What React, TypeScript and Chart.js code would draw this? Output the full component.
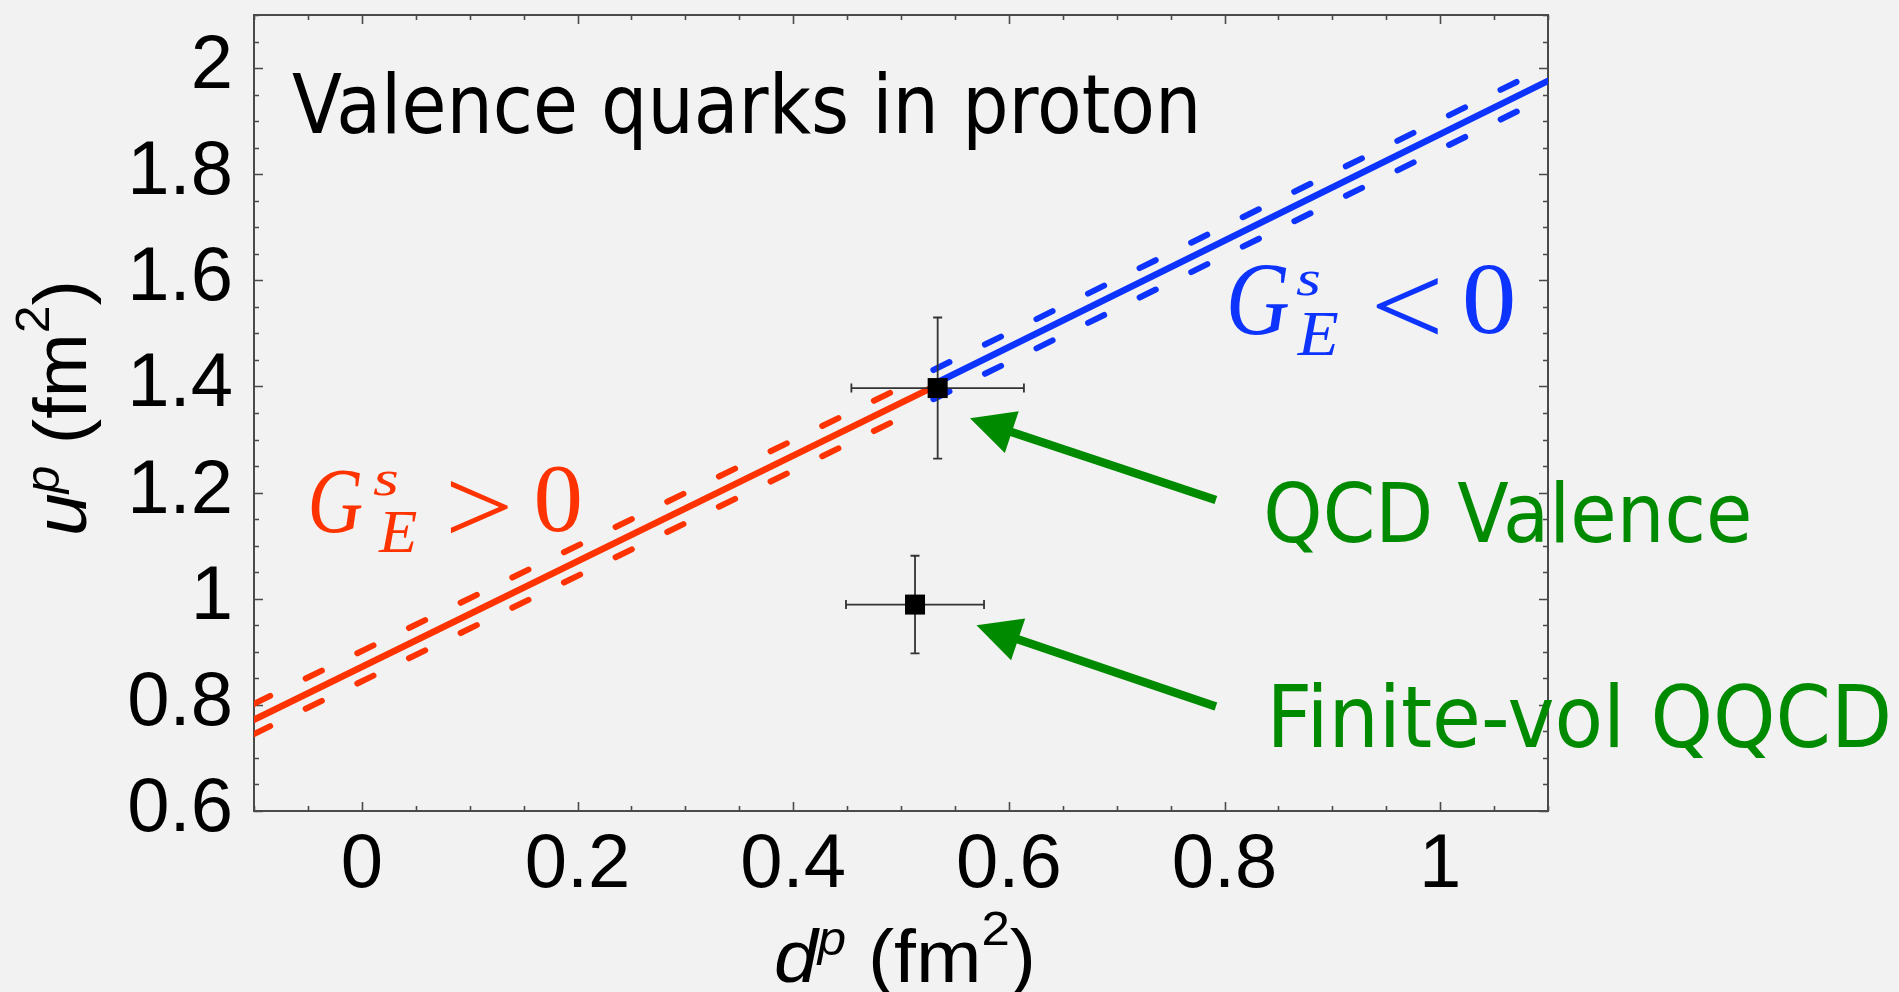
import { useEffect, useRef } from 'react';
import { Chart, registerables } from 'chart.js';

Chart.register(...registerables);

// Axis ranges and labelled ticks
const xRange = [-0.1, 1.1];
const yRange = [0.6, 2.1];
const xTicks = [0, 0.2, 0.4, 0.6, 0.8, 1];
const xTickLabels = ['0', '0.2', '0.4', '0.6', '0.8', '1'];
const yTicks = [0.6, 0.8, 1.0, 1.2, 1.4, 1.6, 1.8, 2.0];
const yTickLabels = ['0.6', '0.8', '1', '1.2', '1.4', '1.6', '1.8', '2'];
const minorStep = 0.05;

// G_E^s > 0 branch: central line and the edges of its band
const redCentralX = [-0.1, 0.534];
const redCentralY = [0.772, 1.403];
const redUpperX = [-0.1, 0.505];
const redUpperY = [0.802, 1.403];
const redLowerX = [-0.1, 0.505];
const redLowerY = [0.745, 1.346];

// G_E^s < 0 branch
const blueCentralX = [0.534, 1.1];
const blueCentralY = [1.408, 1.976];
const blueUpperX = [0.53, 1.075];
const blueUpperY = [1.431, 1.978];
const blueLowerX = [0.53, 1.075];
const blueLowerY = [1.376, 1.922];

// Lattice results with their uncertainties
const pointNames = ['QCD Valence', 'Finite-vol QQCD'];
const pointD = [0.534, 0.513];
const pointU = [1.397, 0.989];
const pointDErr = [0.08, 0.064];
const pointUErr = [0.133, 0.092];

// Arrows from each caption to its point
const arrowTailD = [0.792, 0.792];
const arrowTailU = [1.186, 0.797];
const arrowTipD = [0.564, 0.57];
const arrowTipU = [1.34, 0.95];

const RED = '#ff3300';
const BLUE = '#0d33ff';
const GREEN = '#008a00';
const AXIS = '#4a4a4a';
const SANS = '"Liberation Sans", Arial, sans-serif';
const SERIF = '"Liberation Serif", "Times New Roman", serif';
const HAND = '"DejaVu Sans", sans-serif';

const zip = (xs: number[], ys: number[]) => xs.map((x, i) => ({ x, y: ys[i] }));

const lineSet = (xs: number[], ys: number[], color: string, width: number, dash: number[]) => ({
  data: zip(xs, ys),
  showLine: true,
  borderColor: color,
  backgroundColor: color,
  borderWidth: width,
  borderDash: dash,
  borderCapStyle: 'round' as const,
  pointRadius: 0,
  pointHoverRadius: 0,
  fill: false,
  tension: 0,
  clip: 0,
});

// Draw a glyph run so that its ink fills the given box
function drawBox(ctx: CanvasRenderingContext2D, text: string, font: string, l: number, t: number, r: number, b: number, color: string) {
  ctx.font = font;
  ctx.textAlign = 'left';
  ctx.textBaseline = 'alphabetic';
  const m = ctx.measureText(text);
  const inkW = m.actualBoundingBoxLeft + m.actualBoundingBoxRight;
  const inkH = m.actualBoundingBoxAscent + m.actualBoundingBoxDescent;
  ctx.save();
  ctx.translate(l, t);
  ctx.scale((r - l) / inkW, (b - t) / inkH);
  ctx.fillStyle = color;
  ctx.fillText(text, m.actualBoundingBoxLeft, m.actualBoundingBoxAscent);
  ctx.restore();
}

function drawFitted(ctx: CanvasRenderingContext2D, text: string, family: string, inkLeft: number, baseline: number, capH: number, width: number, color: string) {
  ctx.font = `100px ${family}`;
  const capRatio = ctx.measureText('H').actualBoundingBoxAscent / 100;
  const size = capH / capRatio;
  ctx.font = `${size}px ${family}`;
  ctx.textAlign = 'left';
  ctx.textBaseline = 'alphabetic';
  const m = ctx.measureText(text);
  const inkW = m.actualBoundingBoxLeft + m.actualBoundingBoxRight;
  ctx.save();
  ctx.translate(inkLeft, baseline);
  ctx.scale(width / inkW, 1);
  ctx.fillStyle = color;
  ctx.fillText(text, m.actualBoundingBoxLeft, 0);
  ctx.restore();
}

type Seg = { t: string; font: string; dy: number };

// Centred run of segments, stretched horizontally to a given length
function drawSegs(ctx: CanvasRenderingContext2D, segs: Seg[], center: number, baseline: number, length: number) {
  ctx.textAlign = 'left';
  ctx.textBaseline = 'alphabetic';
  let total = 0;
  for (const s of segs) {
    ctx.font = s.font;
    total += ctx.measureText(s.t).width;
  }
  ctx.save();
  ctx.translate(center - length / 2, baseline);
  ctx.scale(length / total, 1);
  let cx = 0;
  for (const s of segs) {
    ctx.font = s.font;
    ctx.fillText(s.t, cx, s.dy);
    cx += ctx.measureText(s.t).width;
  }
  ctx.restore();
}

const frameAndTicks = {
  id: 'frameAndTicks',
  beforeDatasetsDraw(chart: any) {
    const { ctx, chartArea: a, scales } = chart;
    const xs = scales.x;
    const ys = scales.y;
    const near = (v: number, list: number[]) => list.some((m) => Math.abs(m - v) < 1e-6);
    ctx.save();
    ctx.strokeStyle = AXIS;
    ctx.lineWidth = 2;
    ctx.strokeRect(a.left, a.top, a.right - a.left, a.bottom - a.top);
    ctx.lineWidth = 1.6;
    ctx.beginPath();
    for (let k = Math.ceil(xRange[0] / minorStep - 1e-9); k * minorStep <= xRange[1] + 1e-9; k++) {
      const v = k * minorStep;
      const px = Math.round(xs.getPixelForValue(v)) + 0.5;
      const len = near(v, xTicks) ? 9 : 5;
      ctx.moveTo(px, a.bottom);
      ctx.lineTo(px, a.bottom - len);
      ctx.moveTo(px, a.top);
      ctx.lineTo(px, a.top + len);
    }
    for (let k = Math.ceil(yRange[0] / minorStep - 1e-9); k * minorStep <= yRange[1] + 1e-9; k++) {
      const v = k * minorStep;
      const py = Math.round(ys.getPixelForValue(v)) + 0.5;
      const len = near(v, yTicks) ? 9 : 5;
      ctx.moveTo(a.left, py);
      ctx.lineTo(a.left + len, py);
      ctx.moveTo(a.right, py);
      ctx.lineTo(a.right - len, py);
    }
    ctx.stroke();
    ctx.restore();
  },
  afterDatasetsDraw(chart: any) {
    const { ctx, scales } = chart;
    const xs = scales.x;
    const ys = scales.y;
    ctx.save();
    // error bars
    ctx.strokeStyle = '#333';
    ctx.lineWidth = 1.8;
    const cap = 4.5;
    ctx.beginPath();
    pointNames.forEach((_, i) => {
      const cx = xs.getPixelForValue(pointD[i]);
      const cy = ys.getPixelForValue(pointU[i]);
      const x0 = xs.getPixelForValue(pointD[i] - pointDErr[i]);
      const x1 = xs.getPixelForValue(pointD[i] + pointDErr[i]);
      const y0 = ys.getPixelForValue(pointU[i] - pointUErr[i]);
      const y1 = ys.getPixelForValue(pointU[i] + pointUErr[i]);
      ctx.moveTo(x0, cy); ctx.lineTo(x1, cy);
      ctx.moveTo(x0, cy - cap); ctx.lineTo(x0, cy + cap);
      ctx.moveTo(x1, cy - cap); ctx.lineTo(x1, cy + cap);
      ctx.moveTo(cx, y0); ctx.lineTo(cx, y1);
      ctx.moveTo(cx - cap, y0); ctx.lineTo(cx + cap, y0);
      ctx.moveTo(cx - cap, y1); ctx.lineTo(cx + cap, y1);
    });
    ctx.stroke();
    // square markers
    ctx.fillStyle = '#000';
    pointNames.forEach((_, i) => {
      const cx = xs.getPixelForValue(pointD[i]);
      const cy = ys.getPixelForValue(pointU[i]);
      ctx.fillRect(cx - 10, cy - 10, 20, 20);
    });
    ctx.restore();
  },
  afterDraw(chart: any) {
    const { ctx, chartArea: a, scales } = chart;
    const xs = scales.x;
    const ys = scales.y;
    ctx.save();

    // tick labels
    ctx.fillStyle = '#000';
    ctx.font = `76px ${SANS}`;
    ctx.textBaseline = 'alphabetic';
    ctx.textAlign = 'right';
    yTicks.forEach((v, i) => {
      ctx.fillText(yTickLabels[i], a.left - 21, ys.getPixelForValue(v) + 20);
    });
    ctx.textAlign = 'center';
    xTicks.forEach((v, i) => {
      ctx.fillText(xTickLabels[i], xs.getPixelForValue(v), a.bottom + 76);
    });

    // axis titles
    const big = `74px ${SANS}`;
    const bigIt = `italic 74px ${SANS}`;
    const small = `48px ${SANS}`;
    const smallIt = `italic 48px ${SANS}`;
    drawSegs(ctx, [
      { t: 'd', font: bigIt, dy: 0 },
      { t: 'p', font: smallIt, dy: -27 },
      { t: ' (fm', font: big, dy: 0 },
      { t: '2', font: small, dy: -37 },
      { t: ')', font: big, dy: 0 },
    ], 905, a.bottom + 171, 262);
    ctx.save();
    ctx.translate(86, 0);
    ctx.rotate(-Math.PI / 2);
    drawSegs(ctx, [
      { t: 'u', font: bigIt, dy: 0 },
      { t: 'p', font: smallIt, dy: -27 },
      { t: ' (fm', font: big, dy: 0 },
      { t: '2', font: small, dy: -37 },
      { t: ')', font: big, dy: 0 },
    ], -408, 0, 256);
    ctx.restore();

    // arrows
    ctx.fillStyle = GREEN;
    ctx.strokeStyle = GREEN;
    pointNames.forEach((_, i) => {
      const tx = xs.getPixelForValue(arrowTipD[i]);
      const ty = ys.getPixelForValue(arrowTipU[i]);
      const sx = xs.getPixelForValue(arrowTailD[i]);
      const sy = ys.getPixelForValue(arrowTailU[i]);
      const len = Math.hypot(sx - tx, sy - ty);
      const ux = (sx - tx) / len;
      const uy = (sy - ty) / len;
      const nx = -uy;
      const ny = ux;
      const headLen = 44;
      const headHalf = 22;
      const bx = tx + ux * (headLen - 2);
      const by = ty + uy * (headLen - 2);
      ctx.lineWidth = 8.5;
      ctx.lineCap = 'butt';
      ctx.beginPath();
      ctx.moveTo(sx, sy);
      ctx.lineTo(bx, by);
      ctx.stroke();
      ctx.beginPath();
      ctx.moveTo(tx, ty);
      ctx.lineTo(tx + ux * headLen + nx * headHalf, ty + uy * headLen + ny * headHalf);
      ctx.lineTo(tx + ux * headLen - nx * headHalf, ty + uy * headLen - ny * headHalf);
      ctx.closePath();
      ctx.fill();
    });

    // captions
    drawFitted(ctx, 'Valence quarks in proton', HAND, 292, 133, 60, 904, '#000');
    drawFitted(ctx, pointNames[0], HAND, 1267, 542, 60, 482, GREEN);
    drawFitted(ctx, pointNames[1], HAND, 1274, 747, 62, 614, GREEN);

    // branch labels
    drawBox(ctx, 'G', `italic 94px ${SERIF}`, 311.7, 470, 361.7, 532.5, RED);
    drawBox(ctx, 's', `italic 56px ${SERIF}`, 373, 471, 398, 496, RED);
    drawBox(ctx, 'E', `italic 60px ${SERIF}`, 378, 511.7, 416.7, 551.7, RED);
    drawBox(ctx, '>', `94px ${SERIF}`, 450, 480, 508.3, 533.3, RED);
    drawBox(ctx, '0', `96px ${SERIF}`, 536.7, 466.7, 580, 532.5, RED);

    drawBox(ctx, 'G', `italic 102px ${SERIF}`, 1230, 265, 1288.3, 334, BLUE);
    drawBox(ctx, 's', `italic 56px ${SERIF}`, 1296, 271, 1320, 296, BLUE);
    drawBox(ctx, 'E', `italic 63px ${SERIF}`, 1296.7, 313.3, 1338.3, 355, BLUE);
    drawBox(ctx, '<', `102px ${SERIF}`, 1376.7, 278.3, 1438.3, 335, BLUE);
    drawBox(ctx, '0', `102px ${SERIF}`, 1465, 265, 1513.3, 334, BLUE);

    ctx.restore();
  },
};

export default function App() {
  const canvasRef = useRef<HTMLCanvasElement | null>(null);

  useEffect(() => {
    const canvas = canvasRef.current;
    if (!canvas) return;
    const dash = [18, 39.5];
    const chart = new Chart(canvas, {
      type: 'scatter',
      data: {
        datasets: [
          lineSet(redCentralX, redCentralY, RED, 6.5, []),
          lineSet(redUpperX, redUpperY, RED, 6, dash),
          lineSet(redLowerX, redLowerY, RED, 6, dash),
          lineSet(blueCentralX, blueCentralY, BLUE, 6.5, []),
          lineSet(blueUpperX, blueUpperY, BLUE, 6, dash),
          lineSet(blueLowerX, blueLowerY, BLUE, 6, dash),
        ] as any,
      },
      options: {
        animation: false,
        responsive: false,
        maintainAspectRatio: false,
        events: [],
        layout: { padding: { left: 0, top: 15, right: 351, bottom: 0 } },
        scales: {
          x: {
            type: 'linear',
            min: xRange[0],
            max: xRange[1],
            ticks: { display: false, stepSize: 0.2 },
            grid: { display: false },
            border: { display: false },
            afterFit: (s: any) => { s.height = 181; },
          },
          y: {
            type: 'linear',
            min: yRange[0],
            max: yRange[1],
            ticks: { display: false, stepSize: 0.2 },
            grid: { display: false },
            border: { display: false },
            afterFit: (s: any) => { s.width = 254; },
          },
        },
        plugins: {
          legend: { display: false },
          tooltip: { enabled: false },
        },
      },
      plugins: [frameAndTicks],
    });
    return () => chart.destroy();
  }, []);

  return (
    <div style={{ position: 'fixed', left: 0, top: 0, width: 1899, height: 992, background: '#f2f2f2', overflow: 'hidden' }}>
      <canvas ref={canvasRef} width={1899} height={992} style={{ display: 'block' }} />
    </div>
  );
}
